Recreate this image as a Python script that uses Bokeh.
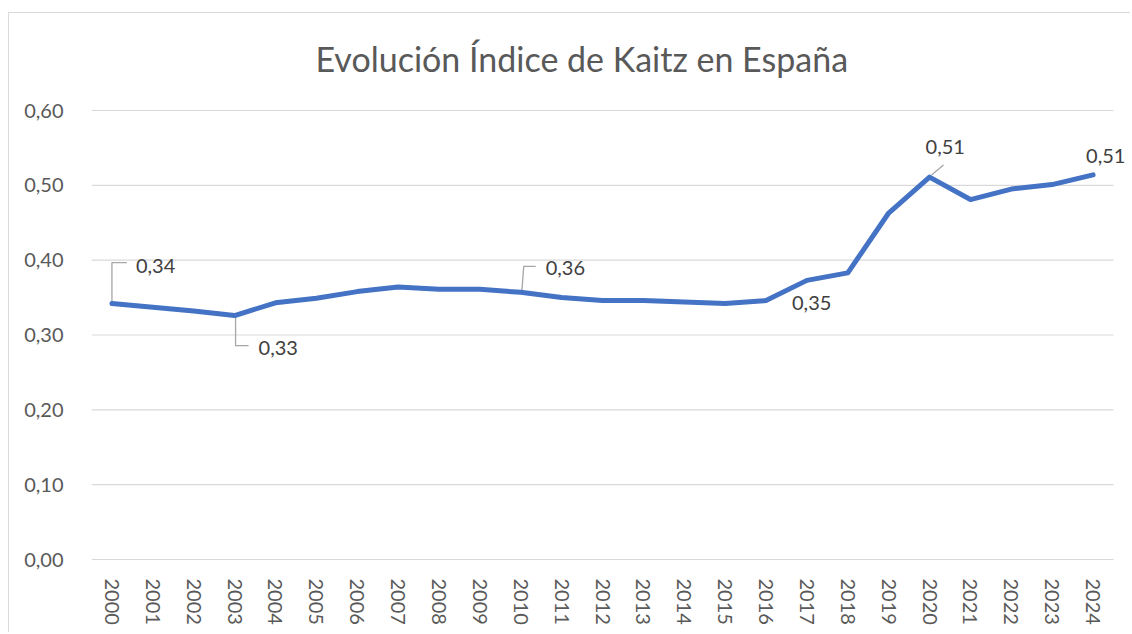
from bokeh.plotting import figure
from bokeh.models import (Range1d, FixedTicker, CustomJSTickFormatter, LabelSet, Label,
                          ColumnDataSource)
from bokeh.core.properties import value
from bokeh.embed import file_html
from bokeh.resources import INLINE

# ---- data ----
years = ["2000", "2001", "2002", "2003", "2004", "2005", "2006", "2007", "2008", "2009",
         "2010", "2011", "2012", "2013", "2014", "2015", "2016", "2017", "2018", "2019",
         "2020", "2021", "2022", "2023", "2024"]
kaitz = [0.342, 0.337, 0.332, 0.326, 0.343, 0.349, 0.358, 0.364, 0.361, 0.361,
         0.357, 0.350, 0.346, 0.346, 0.344, 0.342, 0.346, 0.373, 0.383, 0.463,
         0.511, 0.481, 0.495, 0.501, 0.514]
y_ticks = [0.0, 0.1, 0.2, 0.3, 0.4, 0.5, 0.6]
labeled_idx = [0, 3, 10, 16, 20, 24]
title_text = "Evolución Índice de Kaitz en España"

# ---- styles ----
FONT = "Lato"
BLUE = "#4472C4"
GRID = "#d9d9d9"
AXIS_TXT = "#595959"
LBL_TXT = "#404040"
LEADER = "#a6a6a6"

# label placement offsets in px (x right, y up)
label_offsets = {0: (24, 38), 3: (24, -32), 10: (25, 24), 16: (26, -2), 20: (-4, 30), 24: (-7, 19)}
leader_px = {0: [(0, 2), (0, 41), (15, 41)],
             3: [(1, -2), (1, -30), (14, -30)],
             10: [(1, 0), (3, 26), (15, 26)],
             20: [(2, 2), (14, 12)]}

W, H = 1122, 620
PLOT_W, PLOT_H = 1022, 449      # Excel plot area (gridline extent)
PLOT_TOP = 97                   # plot-area top, canvas px
PAD_B, EXTRA_R = 2, 18          # frame extends beyond the plot area (avoid clipping)
ML, MR = 82, W - 82 - PLOT_W - EXTRA_R
MT, MB = 0, H - PLOT_TOP - PLOT_H - PAD_B
n = len(years)
px_x = n / PLOT_W
px_y = (y_ticks[-1] - y_ticks[0]) / PLOT_H
x_lo, x_hi = -0.5, n - 0.5 + EXTRA_R * px_x
y_lo, y_hi = y_ticks[0] - PAD_B * px_y, y_ticks[-1] + PLOT_TOP * px_y

p = figure(width=W, height=H, output_backend="svg", toolbar_location=None,
           x_range=Range1d(x_lo, x_hi), y_range=Range1d(y_lo, y_hi),
           min_border_left=ML, min_border_right=MR, min_border_top=MT, min_border_bottom=MB)
p.styles = {"border-top": "1px solid " + GRID, "border-left": "1px solid " + GRID,
            "margin-top": "12px", "margin-left": "8px"}
p.outline_line_color = None
p.background_fill_color = "white"
p.border_fill_color = "white"

# title (drawn inside the extended frame, above the plot area)
p.add_layout(Label(x=-0.5 + 224 * px_x, y=y_ticks[-1] + 52 * px_y, text=title_text,
                   text_font=FONT, text_font_size="34px", text_color=AXIS_TXT,
                   text_align="left", text_baseline="alphabetic"))

# axes
xs = list(range(n))
p.xaxis.ticker = FixedTicker(ticks=xs)
p.xaxis.major_label_overrides = {i: y for i, y in enumerate(years)}
p.xaxis.major_label_orientation = "vertical"
p.xaxis.major_label_text_font = FONT
p.xaxis.major_label_text_font_size = "20px"
p.xaxis.major_label_text_color = AXIS_TXT
p.xaxis.major_label_standoff = 11
p.xaxis.axis_line_color = None
p.xaxis.major_tick_line_color = None
p.xaxis.minor_tick_line_color = None

p.yaxis.ticker = FixedTicker(ticks=y_ticks)
p.yaxis.formatter = CustomJSTickFormatter(code="return tick.toFixed(2).replace('.', ',');")
p.yaxis.major_label_text_font = FONT
p.yaxis.major_label_text_font_size = "20px"
p.yaxis.major_label_text_color = AXIS_TXT
p.yaxis.major_label_standoff = 22
p.yaxis.axis_line_color = None
p.yaxis.major_tick_line_color = None
p.yaxis.minor_tick_line_color = None

p.xgrid.grid_line_color = None
p.ygrid.grid_line_color = None

# horizontal gridlines across the plot area only
p.segment(x0=[-0.5] * len(y_ticks), x1=[n - 0.5] * len(y_ticks), y0=y_ticks, y1=y_ticks,
          line_color=GRID, line_width=1.2)

# leader lines (derived from data points + pixel offsets)
lx, ly = [], []
for i, pts in leader_px.items():
    lx.append([xs[i] + dx * px_x for dx, dy in pts])
    ly.append([kaitz[i] + dy * px_y for dx, dy in pts])
p.multi_line(lx, ly, line_color=LEADER, line_width=1.3)

# main line
p.line(xs, kaitz, line_color=BLUE, line_width=5, line_join="round", line_cap="round")

# data labels
src = ColumnDataSource(dict(
    x=[xs[i] + label_offsets[i][0] * px_x for i in labeled_idx],
    y=[kaitz[i] + label_offsets[i][1] * px_y for i in labeled_idx],
    t=[f"{kaitz[i]:.2f}".replace(".", ",") for i in labeled_idx],
))
labels = LabelSet(x="x", y="y", text="t", source=src, text_font=value(FONT),
                  text_font_size=value("20px"), text_color=LBL_TXT,
                  text_align="left", text_baseline="middle")
p.add_layout(labels)

open("out.html", "w").write(file_html(p, INLINE))
